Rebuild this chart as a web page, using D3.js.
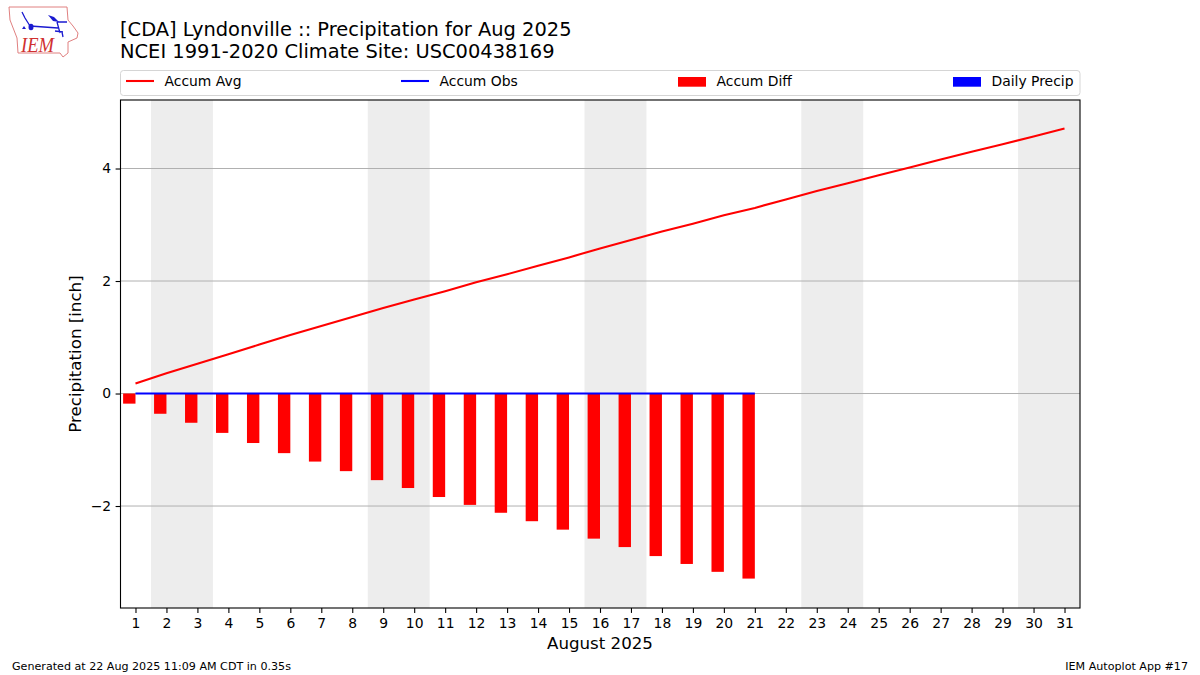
<!DOCTYPE html>
<html>
<head>
<meta charset="utf-8">
<script src="https://cdn.jsdelivr.net/npm/d3@7/dist/d3.min.js"></script>
<style>
html, body { margin: 0; padding: 0; background: #fff; }
svg { display: block; }
text { font-family: "DejaVu Sans", sans-serif; fill: #000; }
</style>
</head>
<body>
<svg id="chart" width="1200" height="675"></svg>
<script>
const days = d3.range(1, 32);
const accumAvg = [0.18, 0.36, 0.53, 0.70, 0.87, 1.04, 1.20, 1.36, 1.52, 1.67, 1.82, 1.98, 2.12, 2.27, 2.42, 2.58,
    2.73, 2.88, 3.02, 3.17, 3.30, 3.45, 3.60, 3.74, 3.88, 4.02, 4.16, 4.30, 4.43, 4.57, 4.71];
const accumObs = [0, 0, 0, 0, 0, 0, 0, 0, 0, 0, 0, 0, 0, 0, 0, 0, 0, 0, 0, 0, 0];
const accumDiff = [-0.18, -0.36, -0.52, -0.70, -0.88, -1.06, -1.21, -1.38, -1.54, -1.68, -1.84, -1.98, -2.12, -2.27,
    -2.42, -2.58, -2.73, -2.89, -3.03, -3.17, -3.29];
const weekends = [[1.5, 3.5], [8.5, 10.5], [15.5, 17.5], [22.5, 24.5], [29.5, 31.5]];
const yTicks = [-2, 0, 2, 4];
const legendItems = [
    { label: 'Accum Avg', kind: 'line', color: '#ff0000', swatch: 126 },
    { label: 'Accum Obs', kind: 'line', color: '#0000ff', swatch: 401 },
    { label: 'Accum Diff', kind: 'bar', color: '#ff0000', swatch: 678 },
    { label: 'Daily Precip', kind: 'bar', color: '#0000ff', swatch: 953 }
];

const plotLeft = 120.5, plotRight = 1080, plotTop = 100, plotBottom = 608;
const svg = d3.select('#chart');

const x = d3.scaleLinear().domain([0.5, 31.5]).range([120, 1080]);
const y = d3.scaleLinear().domain([-3.813, 5.218]).range([plotBottom, plotTop]);

// --- weekend bands ---
svg.append('g').selectAll('rect').data(weekends).join('rect')
    .attr('x', d => x(d[0]))
    .attr('width', d => x(d[1]) - x(d[0]))
    .attr('y', plotTop)
    .attr('height', plotBottom - plotTop)
    .attr('fill', '#ededed');

// --- grid ---
svg.append('g').selectAll('line').data(yTicks).join('line')
    .attr('x1', plotLeft).attr('x2', plotRight)
    .attr('y1', d => y(d)).attr('y2', d => y(d))
    .attr('stroke', '#b0b0b0').attr('stroke-width', 1);

// --- bars, drawn to the left of each day ---
svg.append('g').selectAll('rect').data(accumDiff).join('rect')
    .attr('x', (d, i) => x(days[i] - 0.4))
    .attr('width', x(1) - x(0.6))
    .attr('y', y(0))
    .attr('height', d => y(d) - y(0))
    .attr('fill', '#ff0000');

const line = d3.line().x((d, i) => x(days[i])).y(d => y(d));

svg.append('path').datum(accumAvg)
    .attr('d', line).attr('fill', 'none')
    .attr('stroke', '#ff0000').attr('stroke-width', 2.08);

svg.append('path').datum(accumObs)
    .attr('d', line).attr('fill', 'none')
    .attr('stroke', '#0000ff').attr('stroke-width', 2.08);

// --- axes ---
const xAxis = svg.append('g')
    .attr('transform', `translate(0,${plotBottom})`)
    .call(d3.axisBottom(x).tickValues(days).tickFormat(d3.format('d')).tickSize(4.9).tickPadding(5.5));
const yAxis = svg.append('g')
    .attr('transform', `translate(${plotLeft},0)`)
    .call(d3.axisLeft(y).tickValues(yTicks).tickFormat(d => d < 0 ? '\u2212' + Math.abs(d) : d).tickSize(4.9).tickPadding(4.5));

[xAxis, yAxis].forEach(a => {
    a.select('.domain').remove();
    a.selectAll('text').attr('font-size', 13.9).attr('font-family', '"DejaVu Sans", sans-serif');
    a.selectAll('line').attr('stroke', '#000').attr('stroke-width', 1.1);
});

svg.append('rect')
    .attr('x', plotLeft).attr('y', plotTop)
    .attr('width', plotRight - plotLeft).attr('height', plotBottom - plotTop)
    .attr('fill', 'none').attr('stroke', '#000').attr('stroke-width', 1.1);

// --- labels ---
svg.append('text').attr('x', 600).attr('y', 649)
    .attr('text-anchor', 'middle').attr('font-size', 16.67).text('August 2025');
svg.append('text')
    .attr('transform', 'translate(80.5,354) rotate(-90)')
    .attr('text-anchor', 'middle').attr('font-size', 16.67).text('Precipitation [inch]');

svg.append('text').attr('x', 120).attr('y', 35.5).attr('font-size', 19.44)
    .text('[CDA] Lyndonville :: Precipitation for Aug 2025');
svg.append('text').attr('x', 120).attr('y', 57.5).attr('font-size', 19.44)
    .text('NCEI 1991-2020 Climate Site: USC00438169');

svg.append('text').attr('x', 12).attr('y', 670).attr('font-size', 11.11)
    .text('Generated at 22 Aug 2025 11:09 AM CDT in 0.35s');
svg.append('text').attr('x', 1188).attr('y', 670).attr('text-anchor', 'end').attr('font-size', 11.11)
    .text('IEM Autoplot App #17');

// --- legend ---
svg.append('rect')
    .attr('x', 120.5).attr('y', 70.5).attr('width', 959.5).attr('height', 25)
    .attr('rx', 3).attr('fill', '#fff').attr('stroke', '#d5d5d5').attr('stroke-width', 1);

const legend = svg.append('g').selectAll('g').data(legendItems).join('g');
legend.filter(d => d.kind === 'line').append('line')
    .attr('x1', d => d.swatch).attr('x2', d => d.swatch + 28)
    .attr('y1', 81).attr('y2', 81)
    .attr('stroke', d => d.color).attr('stroke-width', 2.08);
legend.filter(d => d.kind === 'bar').append('rect')
    .attr('x', d => d.swatch).attr('y', 77).attr('width', 28).attr('height', 9.7)
    .attr('fill', d => d.color);
legend.append('text')
    .attr('x', d => d.swatch + 38.5).attr('y', 86)
    .attr('font-size', 13.9)
    .text(d => d.label);

// --- IEM logo, traced by hand from the corner of the picture ---
const logo = svg.append('g').attr('fill', 'none');
logo.append('path')
    .attr('d', 'M9,7 L67,7 L68,20 L73,26 L78,33 L77,38 L68,42 L68,53 L63,57 L60,53 L18,53 L17,38 L10,20 Z')
    .attr('stroke', '#e08080').attr('stroke-width', 1);
logo.append('path')
    .attr('d', 'M30,26 L58,28 M57,22 L67,22 M57,22 L60,33 M55,31 L63,32 M22,12 L25,18 L30,26 M62,32 L63,37')
    .attr('stroke', '#1a1ad0').attr('stroke-width', 1.3);
logo.append('ellipse').attr('cx', 31).attr('cy', 27).attr('rx', 2.5).attr('ry', 3.2).attr('fill', '#1a1ad0');
logo.append('path').attr('d', 'M48,15 L54,17 L59,22 L53,21 Z').attr('fill', '#1a1ad0');
logo.append('path').attr('d', 'M24,26 L26,29 L22,29 Z').attr('fill', '#1a1ad0');
logo.append('text').attr('x', 21).attr('y', 52)
    .attr('font-size', 21).attr('font-style', 'italic')
    .attr('textLength', 33).attr('lengthAdjust', 'spacingAndGlyphs')
    .style('font-family', '"Liberation Serif", serif').style('fill', '#d03030')
    .text('IEM');
</script>
</body>
</html>
